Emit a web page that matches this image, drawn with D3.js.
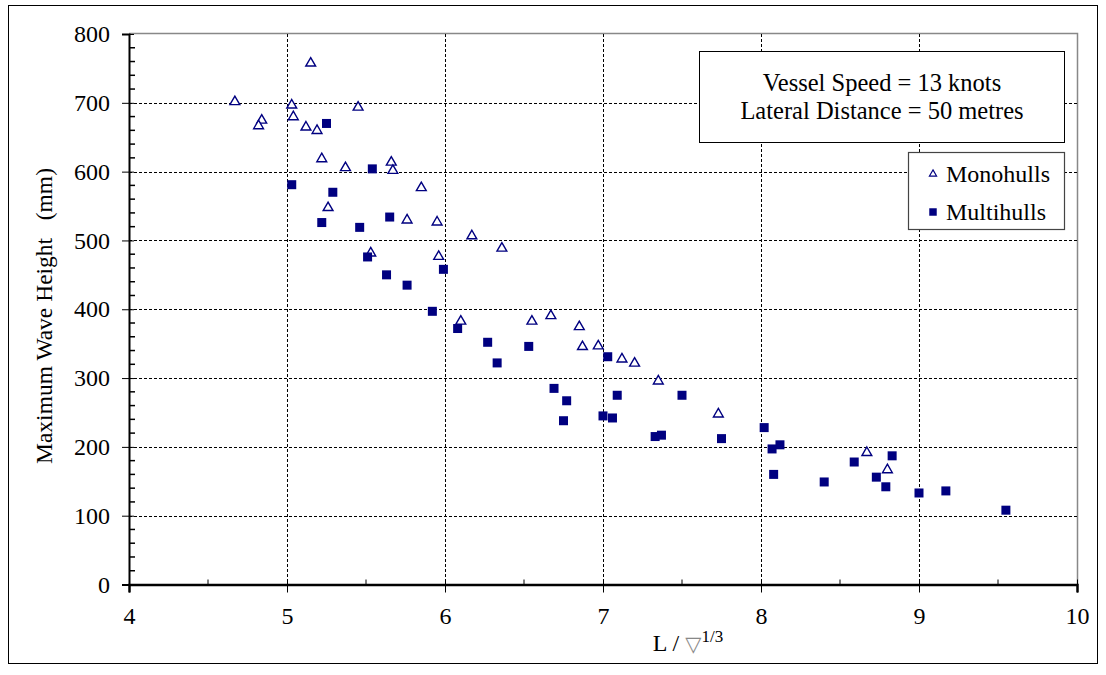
<!DOCTYPE html>
<html>
<head>
<meta charset="utf-8">
<script src="https://cdn.jsdelivr.net/npm/d3@7"></script>
<style>
  body { margin: 0; background: #fff; }
  text { font-family: "Liberation Serif", "Times New Roman", serif; fill: #000; white-space: pre; }
</style>
</head>
<body>
<svg width="1106" height="675"></svg>
<script>
// Monohulls (open triangles)
var monoX = [4.67, 4.84, 4.82, 5.15, 5.03, 5.04, 5.12, 5.19, 5.45, 5.22, 5.37, 5.66, 5.67, 5.85, 5.26, 5.76, 5.95, 5.53, 5.96,
             6.17, 6.36, 6.10, 6.55, 6.67, 6.85, 6.87, 6.97, 7.12, 7.20, 7.35, 7.73, 8.67, 8.80];
var monoY = [703, 676, 668, 759, 698, 681, 666, 661, 695, 620, 607, 615, 603, 578, 549, 531, 528, 483, 478,
             508, 490, 384, 384, 392, 376, 347, 348, 329, 323, 297, 249, 193, 168];
// Multihulls (filled squares)
var multiX = [5.25, 5.54, 5.03, 5.29, 5.22, 5.65, 5.46, 5.51, 5.99, 5.63, 5.76, 5.92,
              6.08, 6.27, 6.53, 6.33, 7.03, 6.69, 6.77, 6.75, 7.09, 7.50, 7.00, 7.06, 7.33, 7.37, 7.75, 8.02,
              8.07, 8.12, 8.08, 8.40, 8.59, 8.83, 8.73, 8.79, 9.00, 9.17, 9.55];
var multiY = [670, 604, 581, 570, 526, 534, 519, 476, 458, 450, 435, 397,
              372, 352, 346, 322, 331, 285, 267, 238, 275, 275, 245, 242, 215, 217, 212, 228,
              197, 203, 160, 149, 178, 187, 156, 142, 133, 136, 108];
var xTicks = [4, 5, 6, 7, 8, 9, 10];
var yTicks = [0, 100, 200, 300, 400, 500, 600, 700, 800];
var infoLines = ["Vessel Speed = 13 knots", "Lateral Distance = 50 metres"];
var seriesNames = ["Monohulls", "Multihulls"];

var navy = "#000080";
var svg = d3.select("svg");
var plotL = 129, plotR = 1077, plotT = 34, plotB = 584.5;

var x = d3.scaleLinear().domain([4, 10]).range([plotL, plotR]);
var y = d3.scaleLinear().domain([0, 800]).range([plotB, plotT]);

// outer frame
svg.append("rect").attr("x", 8.5).attr("y", 5.5).attr("width", 1089).attr("height", 658)
  .attr("fill", "none").attr("stroke", "#000").attr("stroke-width", 1);

// plot border (top/right)
svg.append("path")
  .attr("d", "M" + plotL + "," + (plotT - 0.5) + "H" + (plotR + 0.5) + "V" + plotB)
  .attr("fill", "none").attr("stroke", "#888").attr("stroke-width", 1.5);

// grid
var grid = svg.append("g").attr("stroke", "#000").attr("stroke-width", 1).attr("stroke-dasharray", "3,2");
grid.selectAll(".gy").data(yTicks.filter(function(d) { return d > 0 && d < 800; })).enter().append("line")
  .attr("x1", plotL).attr("x2", plotR)
  .attr("y1", function(d) { return Math.round(y(d)) + 0.5; })
  .attr("y2", function(d) { return Math.round(y(d)) + 0.5; });
grid.selectAll(".gx").data(xTicks.filter(function(d) { return d > 4 && d < 10; })).enter().append("line")
  .attr("y1", plotT).attr("y2", plotB)
  .attr("x1", function(d) { return Math.round(x(d)) + 0.5; })
  .attr("x2", function(d) { return Math.round(x(d)) + 0.5; });

// y axis
var yAxis = svg.append("g").attr("transform", "translate(" + plotL + ",0)")
  .call(d3.axisLeft(y).tickValues(yTicks).tickFormat(d3.format("d")).tickSize(7).tickPadding(12));
yAxis.select(".domain").attr("stroke-width", 2);
yAxis.selectAll(".tick line").attr("x2", -7).attr("x1", 5);
yAxis.selectAll("text").style("font-size", "24px").style("font-family", "Liberation Serif, serif");
var yMinor = d3.range(20, 800, 20).filter(function(d) { return d % 100 !== 0; });
svg.append("g").selectAll("line").data(yMinor).enter().append("line")
  .attr("x1", plotL).attr("x2", plotL + 6)
  .attr("y1", function(d) { return y(d); }).attr("y2", function(d) { return y(d); })
  .attr("stroke", "#000").attr("stroke-width", 1.5);

// x axis
var xAxis = svg.append("g").attr("transform", "translate(0," + plotB + ")")
  .call(d3.axisBottom(x).tickValues(xTicks).tickFormat(d3.format("d")).tickSize(8).tickPadding(14));
xAxis.select(".domain").attr("stroke-width", 2.5);
xAxis.selectAll(".tick line").attr("y1", -5);
xAxis.selectAll("text").style("font-size", "24px").style("font-family", "Liberation Serif, serif");
svg.append("g").selectAll("line").data([4.5, 5.5, 6.5, 7.5, 8.5, 9.5]).enter().append("line")
  .attr("x1", function(d) { return x(d); }).attr("x2", function(d) { return x(d); })
  .attr("y1", plotB - 5).attr("y2", plotB)
  .attr("stroke", "#000").attr("stroke-width", 1);

// axis titles
var xt = svg.append("text").attr("x", 688).attr("y", 651).attr("text-anchor", "middle")
  .style("font-size", "24px");
xt.append("tspan").text("L / ");
xt.append("tspan").text("\u25BD").style("fill", "#888").style("font-family", "DejaVu Sans").style("font-size", "21px");
xt.append("tspan").text("1/3").attr("dy", -9).style("font-size", "17px");

svg.append("text").attr("transform", "translate(52,316) rotate(-90)")
  .attr("text-anchor", "middle").style("font-size", "23.5px")
  .text("Maximum Wave Height   (mm)");

// markers
var tri = d3.symbol().type(d3.symbolTriangle).size(42);
svg.append("g").selectAll("path").data(monoX).enter().append("path")
  .attr("d", tri)
  .attr("transform", function(d, i) { return "translate(" + x(d) + "," + (y(monoY[i]) + 1) + ")"; })
  .attr("fill", "#fff").attr("stroke", navy).attr("stroke-width", 1.4);

svg.append("g").selectAll("rect").data(multiX).enter().append("rect")
  .attr("x", function(d) { return x(d) - 4.5; })
  .attr("y", function(d, i) { return y(multiY[i]) - 4.5; })
  .attr("width", 9).attr("height", 9)
  .attr("fill", navy);

// info box
svg.append("rect").attr("x", 699.5).attr("y", 51.5).attr("width", 365).attr("height", 91)
  .attr("fill", "#fff").attr("stroke", "#000").attr("stroke-width", 1);
svg.append("g").selectAll("text").data(infoLines).enter().append("text")
  .attr("x", 882).attr("y", function(d, i) { return 91 + i * 28; })
  .attr("text-anchor", "middle").style("font-size", "24.5px")
  .text(function(d) { return d; });

// legend
svg.append("rect").attr("x", 908.5).attr("y", 152.5).attr("width", 156).attr("height", 77)
  .attr("fill", "#fff").attr("stroke", "#444").attr("stroke-width", 1.2);
var leg = svg.append("g").selectAll("g").data(seriesNames).enter().append("g")
  .attr("transform", function(d, i) { return "translate(0," + (i * 38) + ")"; });
leg.append("path")
  .attr("d", function(d, i) { return i === 0 ? d3.symbol().type(d3.symbolTriangle).size(22)() : d3.symbol().type(d3.symbolSquare).size(56)(); })
  .attr("transform", "translate(933,174)")
  .attr("fill", function(d, i) { return i === 0 ? "#fff" : navy; })
  .attr("stroke", function(d, i) { return i === 0 ? navy : "none"; })
  .attr("stroke-width", 1.2);
leg.append("text").attr("x", 946).attr("y", 182).style("font-size", "24px")
  .text(function(d) { return d; });
</script>
</body>
</html>
